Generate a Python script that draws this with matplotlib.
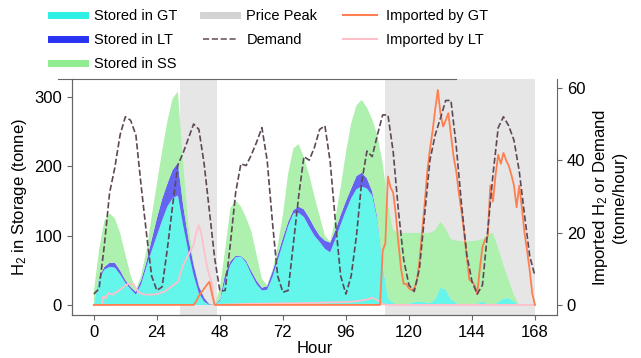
import numpy as np
import matplotlib
matplotlib.use("Agg")
import matplotlib.pyplot as plt
from matplotlib.lines import Line2D

plt.rcParams['font.family'] = ['Liberation Sans', 'DejaVu Sans']
plt.rcParams['mathtext.fontset'] = 'custom'
plt.rcParams['mathtext.rm'] = 'Liberation Sans'
plt.rcParams['mathtext.it'] = 'Liberation Sans:italic'
plt.rcParams['font.size'] = 12

# ---------------- data ----------------
hours = np.arange(0, 169, 2)

# top of the turquoise layer (stored in GT), tonne
gt_top = [0, 37, 51, 55, 54, 44, 32, 23, 15, 30, 55, 78,
          100, 122, 142, 154, 158, 115, 77, 43, 17, 5, 0, 0,
          6, 35, 58, 69, 70, 61, 44, 30, 21, 22, 40, 64,
          89, 114, 132, 133, 127, 113, 100, 91, 81, 76, 95, 116,
          136, 154, 167, 171, 168, 158, 122, 56, 10, 3, 1, 0,
          2, 4, 5, 4, 3, 8, 25, 22, 8, 3, 0, 0,
          0, 2, 5, 1, 0, 4, 9, 10, 5, 0, 0, 0,
          0]
# top of the blue layer (GT + LT)
lt_top = [0, 40, 55, 61, 61, 50, 36, 26, 19, 36, 62, 94,
          125, 153, 175, 195, 205, 144, 96, 58, 27, 10, 1, 0,
          8, 45, 63, 71, 71, 64, 49, 35, 25, 27, 48, 72,
          97, 120, 137, 142, 138, 126, 112, 100, 93, 90, 108, 130,
          150, 168, 186, 191, 183, 164, 126, 58, 10, 3, 1, 0,
          2, 4, 5, 4, 3, 8, 25, 22, 8, 3, 0, 0,
          0, 2, 5, 1, 0, 4, 9, 10, 5, 0, 0, 0,
          0]
# top of the green layer (GT + LT + SS)
ss_top = [19, 80, 122, 132, 125, 104, 73, 43, 22, 42, 78, 127,
          175, 222, 265, 298, 308, 205, 115, 60, 28, 10, 2, 0,
          25, 80, 140, 151, 142, 126, 106, 72, 38, 28, 50, 85,
          130, 190, 226, 232, 213, 188, 157, 128, 100, 91, 125, 170,
          220, 262, 288, 296, 285, 268, 245, 205, 145, 108, 104, 104,
          104, 104, 104, 104, 104, 108, 120, 110, 95, 93, 92, 92,
          92, 93, 95, 102, 104, 82, 57, 36, 14, 0, 0, 0,
          0]

# demand, tonne/hour
demand = [3, 4.5, 16.5, 31, 38, 47, 52, 51, 47, 33, 20, 8,
          4, 5, 15.5, 27.5, 38.7, 42, 46, 50, 48.5, 39, 26, 13,
          3.8, 4, 17, 31, 39, 38.5, 41.5, 45, 49, 40, 23, 8,
          3.5, 4, 17, 30, 41, 40, 43.5, 48.5, 49.5, 39.6, 23, 8,
          3, 8, 19, 34, 42.5, 41, 47, 52.5, 52.5, 42.3, 26, 12.5,
          5.5, 3.7, 10, 25, 40, 47, 51.6, 56.5, 56.5, 44, 28, 14,
          6.5, 3, 5.5, 20.5, 36, 49, 52, 49.5, 45.5, 37, 25, 13.5,
          8]

imp_gt_hours = [0, 38, 39, 40, 41, 42, 43, 44, 45, 46,
                109, 110, 111, 112, 113, 114, 115, 116, 117, 118, 119, 120,
                121, 122, 123, 124, 125, 126, 127, 128, 129, 130, 131, 132,
                133, 134, 135, 136, 137, 138, 139, 140, 141, 142, 143, 144,
                145, 146, 147, 148, 149, 150, 151, 152, 153, 154, 155, 156,
                157, 158, 159, 160, 161, 162, 163, 164, 165, 166, 167, 168]
imp_gt = [0, 0, 1, 2.5, 3.5, 4.5, 5.5, 6.4, 3, 0,
          0, 15, 17, 35.5, 32.5, 31, 25, 17, 10, 5.8, 5.8, 4.6,
          4.1, 4.5, 6.5, 12, 20, 28, 37, 43, 48, 54, 59.4, 53,
          49.3, 51, 53, 47, 41, 37, 31, 26, 20, 13.5, 7, 6.4,
          5.5, 3, 10, 16, 18, 19, 33, 28.6, 36, 41.5, 39, 42,
          40, 38.5, 36, 33, 27, 33, 27, 20, 15, 9.5, 3, 0]

imp_lt_hours = [0, 3, 3.5, 4.5, 5.5, 7, 9, 11, 13, 15, 17, 19, 22, 25, 27,
                29, 32, 34, 36, 38, 39, 40, 41, 42, 43, 44, 45, 45.5, 46,
                60, 80, 96, 100, 104, 106, 108, 110, 112, 168]
imp_lt = [0, 0, 2.3, 1.8, 3.3, 2.8, 3.7, 4.8, 5.8, 5.8, 3.5, 2.9, 2.8, 3.2, 3.7,
          4.8, 6.4, 11, 13.8, 16.6, 20, 22, 19.5, 15, 11, 8, 6, 2, 0,
          0.3, 0.5, 0.8, 1, 1.5, 2, 1.3, 0.2, 0, 0]

peak_start = [33, 111]
peak_end = [47, 168]

# ---------------- figure ----------------
fig = plt.figure(figsize=(6.41, 3.58), dpi=100)
ax = fig.add_axes([0.112, 0.12, 0.757, 0.659])
ax2 = ax.twinx()

gt_top = np.array(gt_top, dtype=float)
lt_top = np.array(lt_top, dtype=float)
ss_top = np.array(ss_top, dtype=float)

for s, e in zip(peak_start, peak_end):
    ax.axvspan(s, e, color='lightgray', alpha=0.55, lw=0, zorder=0)

ax.stackplot(hours, gt_top, lt_top - gt_top, ss_top - lt_top,
             colors=['#64F5EB', '#6464F0', '#AEF0AE'], lw=0, zorder=1)

ax2.plot(imp_lt_hours, imp_lt, color='pink', lw=1.3)
ax2.plot(imp_gt_hours, imp_gt, color='#FF7F50', lw=1.3)
ax2.plot(hours, demand, color='#5E4858', ls='--', lw=1.2)

ax.set_xlim(-8.4, 176.4)
ax.set_ylim(-14.5, 326)
ax2.set_ylim(-2.8, 62.4)
ax.set_xticks(range(0, 169, 24))
ax.set_yticks([0, 100, 200, 300])
ax2.set_yticks([0, 20, 40, 60])
ax.set_xlabel('Hour', labelpad=1)
ax.set_ylabel(r'H$_2$ in Storage (tonne)')
ax2.set_ylabel('Imported H$_2$ or Demand\n(tonne/hour)')

spine_c = '#666666'
for a in (ax, ax2):
    for sp in a.spines.values():
        sp.set_color(spine_c)
    a.tick_params(color=spine_c, length=3.5, labelsize=12)
ax2.spines['top'].set_visible(False)
ax.spines['right'].set_visible(False)
ax.spines['top'].set_bounds(-13.7, 137.8)

handles = [
    Line2D([], [], color='#2EF0E4', lw=5),
    Line2D([], [], color='#2832F0', lw=5),
    Line2D([], [], color='#90EE90', lw=5),
    Line2D([], [], color='#D3D3D3', lw=5),
    Line2D([], [], color='#6E5A66', ls='--', lw=1.2),
    Line2D([], [], color='#FF7F50', lw=1.5),
    Line2D([], [], color='pink', lw=1.5),
]
labels = ['Stored in GT', 'Stored in LT', 'Stored in SS', 'Price Peak',
          'Demand', 'Imported by GT', 'Imported by LT']
fig.legend(handles, labels, ncol=3, loc='upper left',
           bbox_to_anchor=(0.059, 1.012), frameon=False, fontsize=10.5,
           handlelength=2.35, handletextpad=0.62, columnspacing=1.75,
           labelspacing=0.68)

fig.savefig('out.png', dpi=100)
